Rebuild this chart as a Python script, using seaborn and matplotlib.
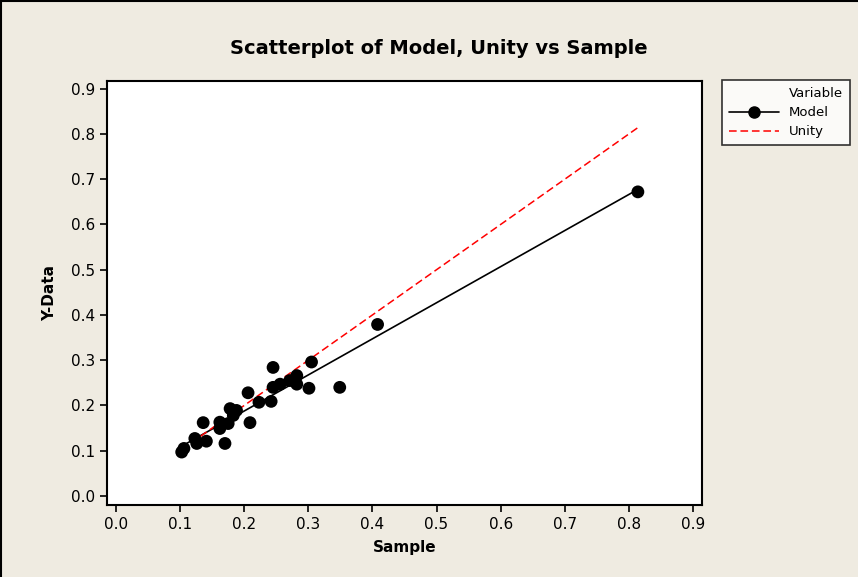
import numpy as np
import pandas as pd
import matplotlib
matplotlib.use("Agg")
import matplotlib.pyplot as plt
from matplotlib.lines import Line2D
import seaborn as sns

# values
sample = [0.1025, 0.106, 0.123, 0.126, 0.141, 0.136, 0.170, 0.162, 0.162, 0.175,
          0.178, 0.188, 0.183, 0.209, 0.206, 0.223, 0.242, 0.245, 0.245, 0.256,
          0.271, 0.282, 0.282, 0.301, 0.305, 0.349, 0.408, 0.814]
model = [0.097, 0.105, 0.127, 0.116, 0.121, 0.162, 0.116, 0.163, 0.149, 0.160,
         0.193, 0.189, 0.178, 0.162, 0.228, 0.207, 0.209, 0.284, 0.240, 0.247,
         0.255, 0.266, 0.247, 0.238, 0.296, 0.240, 0.379, 0.672]
ticks = [0.0, 0.1, 0.2, 0.3, 0.4, 0.5, 0.6, 0.7, 0.8, 0.9]

df = pd.DataFrame({"Sample": sample, "Model": model})
df["Unity"] = df["Sample"]

sns.set_style("white")
plt.rcParams["font.family"] = ["DejaVu Sans"]
plt.rcParams["text.color"] = "black"

bg = "#efebe1"
fig = plt.figure(figsize=(8.58, 5.77), dpi=100, facecolor=bg, edgecolor=bg)
ax = fig.add_axes([107 / 858, 1 - 505 / 577, 595 / 858, 424 / 577])
ax.set_facecolor("white")

# fitted model line + points
sns.regplot(data=df, x="Sample", y="Model", ci=None, truncate=True, ax=ax,
            scatter_kws={"s": 85, "color": "black", "alpha": 1, "edgecolor": "none", "zorder": 3},
            line_kws={"color": "black", "lw": 1.2})
# unity line
sns.lineplot(data=df, x="Sample", y="Unity", ax=ax, color="red", lw=1.1,
             linestyle=(0, (5, 2.5)), sort=True)

ax.set_xlim(-0.014, 0.914)
ax.set_ylim(-0.02, 0.917)
ax.set_xticks(ticks)
ax.set_yticks(ticks)
ax.set_xticklabels([f"{t:.1f}" for t in ticks])
ax.set_yticklabels([f"{t:.1f}" for t in ticks])
ax.tick_params(direction="out", length=5, width=1.2, color="black",
               labelsize=11, labelcolor="black", bottom=True, left=True)
for s in ax.spines.values():
    s.set_color("black")
    s.set_linewidth(1.5)

ax.set_xlabel("Sample", fontsize=11, fontweight="bold", labelpad=6, color="black")
ax.set_ylabel("Y-Data", fontsize=11, fontweight="bold", labelpad=10, color="black")

fig.text(439 / 858, 1 - 49 / 577, "Scatterplot of Model, Unity vs Sample",
         ha="center", va="center", fontsize=14, fontweight="bold", color="black")

handles = [Line2D([], [], linestyle="none", label="Variable"),
           Line2D([], [], color="black", lw=1.2, marker="o", markersize=8, label="Model"),
           Line2D([], [], color="red", lw=1.1, linestyle=(0, (5, 2.5)), label="Unity")]
leg = fig.legend(handles=handles, loc="upper left",
                 bbox_to_anchor=(722 / 858, 1 - 80 / 577), borderaxespad=0,
                 fontsize=9.5, frameon=True, fancybox=False, handlelength=3.8,
                 borderpad=0.55, labelspacing=0.45, handletextpad=0.7)
leg.get_frame().set_edgecolor("black")
leg.get_frame().set_linewidth(1.2)
leg.get_frame().set_facecolor("white")
for t in leg.get_texts():
    t.set_color("black")

# screenshot frame top/left
fig.add_artist(Line2D([0, 1], [0.999, 0.999], color="black", lw=1.5, transform=fig.transFigure))
fig.add_artist(Line2D([0.001, 0.001], [0, 1], color="black", lw=1.5, transform=fig.transFigure))

fig.savefig("out.png", dpi=100, facecolor=bg, edgecolor=bg)
